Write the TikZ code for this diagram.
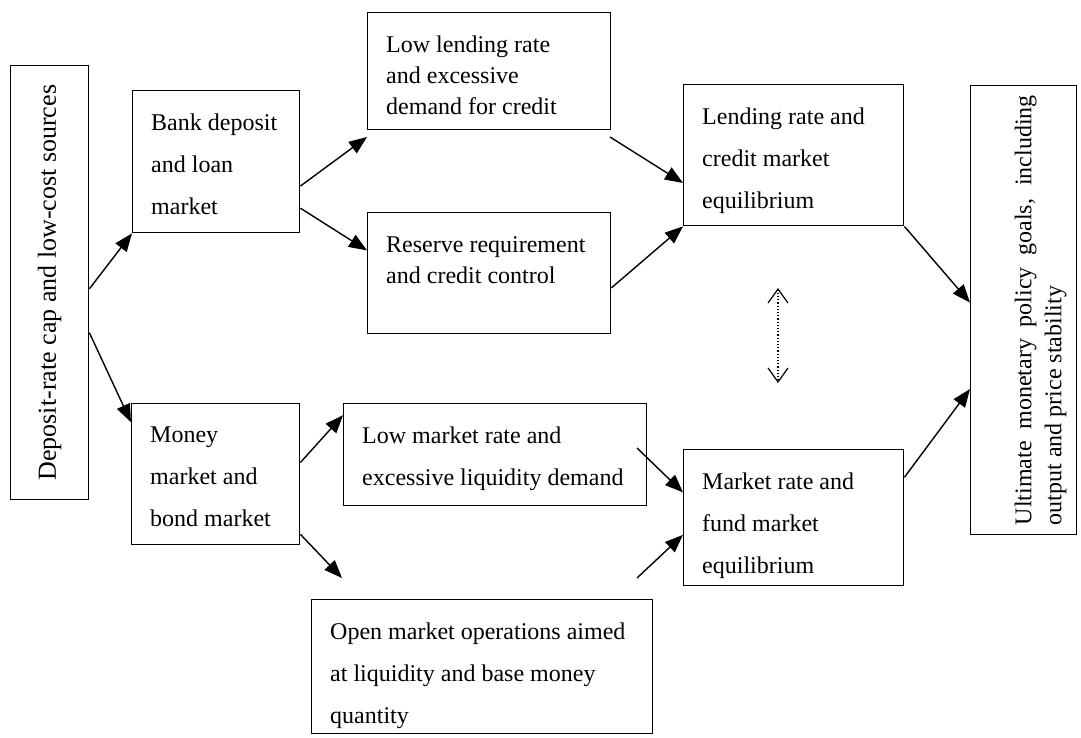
\documentclass[tikz,border=0pt]{standalone}
\usepackage{fontspec}
\setmainfont{Liberation Serif}
\usetikzlibrary{arrows.meta,calc}

\begin{document}
\begin{tikzpicture}[x=1pt,y=-1pt,
    box/.style={draw,line width=1.4pt,anchor=north west,inner sep=0pt},
    txt/.style={anchor=north west,align=left,inner xsep=19pt,inner ysep=24pt,
        font=\fontsize{24}{42}\selectfont},
    flow/.style={line width=1.4pt,-{Triangle[length=18pt,width=14pt]}}]
    \useasboundingbox (0,0) rectangle (1081,738);

    % boxes
    \node[box,minimum width=78pt,minimum height=434pt,
        label={[rotate=90,font=\fontsize{26}{30}\selectfont]center:{Deposit-rate cap and low-cost sources}}]
        (dep) at (10,65) {};
    \node[box,minimum width=167pt,minimum height=142pt,
        label={[txt]north west:{Bank deposit\\and loan\\market}}] (bank) at (132,90) {};
    \node[box,minimum width=243pt,minimum height=117pt,
        label={[txt,font=\fontsize{24}{31}\selectfont]north west:{Low lending rate\\and excessive\\demand for credit}}]
        (lowlend) at (367,12) {};
    \node[box,minimum width=243pt,minimum height=121pt,
        label={[txt,font=\fontsize{24}{31}\selectfont]north west:{Reserve requirement\\and credit control}}]
        (reserve) at (367,212) {};
    \node[box,minimum width=220pt,minimum height=141pt,
        label={[txt]north west:{Lending rate and\\credit market\\equilibrium}}] (lending) at (683,84) {};
    \node[box,minimum width=106pt,minimum height=449pt,
        label={[xshift=17pt,rotate=90,text width=430pt,align=justify,font=\fontsize{24}{30}\selectfont]center:{Ultimate monetary policy goals, including output and price stability}}]
        (goal) at (970,85) {};
    \node[box,minimum width=168pt,minimum height=141pt,
        label={[txt]north west:{Money\\market and\\bond market}}] (money) at (131,403) {};
    \node[box,minimum width=303pt,minimum height=102pt,
        label={[txt]north west:{Low market rate and\\excessive liquidity demand}}] (lowmkt) at (343,403) {};
    \node[box,minimum width=341pt,minimum height=134pt,
        label={[txt]north west:{Open market operations aimed\\at liquidity and base money\\quantity}}] (open) at (311,599) {};
    \node[box,minimum width=220pt,minimum height=136pt,
        label={[txt]north west:{Market rate and\\fund market\\equilibrium}}] (market) at (683,449) {};

    % free ends
    \coordinate (lowlendin) at (367,137);
    \coordinate (lowlendout) at (610,137);
    \coordinate (openin) at (342,578);
    \coordinate (openout) at (637,578);
    \coordinate (lowmktout) at (637,448);
    \coordinate (linkup) at (778,288);
    \coordinate (linkdown) at (778,383);

    % arrows
    \draw[flow] ($(dep.north east)!.514!(dep.south east)$) -- (bank.south west);
    \draw[flow] ($(dep.north east)!.615!(dep.south east)$) -- ($(money.north west)!.135!(money.south west)$);
    \draw[flow] ($(bank.north east)!.67!(bank.south east)$) -- (lowlendin);
    \draw[flow] ($(bank.north east)!.824!(bank.south east)$) -- ($(reserve.north west)!.314!(reserve.south west)$);
    \draw[flow] (lowlendout) -- ($(lending.north west)!.695!(lending.south west)$);
    \draw[flow] ($(reserve.north east)!.62!(reserve.south east)$) -- (lending.south west);
    \draw[flow] (lending.south east) -- ($(goal.north west)!.483!(goal.south west)$);
    \draw[flow] ($(market.north east)!.206!(market.south east)$) -- ($(goal.north west)!.675!(goal.south west)$);
    \draw[flow] ($(money.north east)!.418!(money.south east)$) -- ($(lowmkt.north west)!.118!(lowmkt.south west)$);
    \draw[flow] ($(money.north east)!.922!(money.south east)$) -- (openin);
    \draw[flow] (lowmktout) -- ($(market.north west)!.316!(market.south west)$);
    \draw[flow] (openout) -- ($(market.north west)!.625!(market.south west)$);
    \draw[dotted,line width=1.2pt,
        {Straight Barb[length=14pt,width=20pt]}-{Straight Barb[length=14pt,width=20pt]}] (linkup) -- (linkdown);
\end{tikzpicture}
\end{document}
